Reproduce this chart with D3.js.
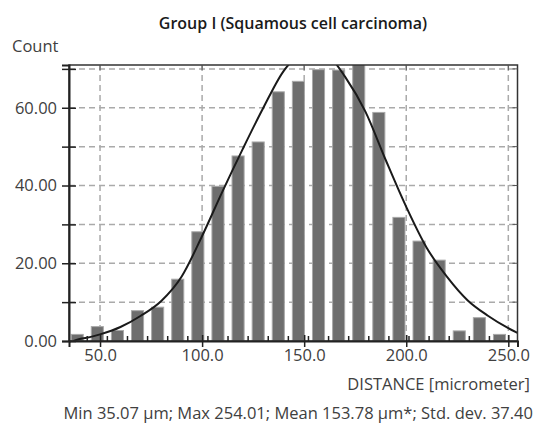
<!DOCTYPE html>
<html>
<head>
<meta charset="utf-8">
<script src="https://cdn.jsdelivr.net/npm/d3@7"></script>
<style>
  html, body { margin: 0; padding: 0; background: #fff; }
  svg, svg text { font-family: "Open Sans", "Noto Sans", sans-serif; }
  svg { display: block; }
</style>
</head>
<body>
<svg id="chart" width="546" height="431"></svg>
<script>
// ---- data ----
const title = "Group I (Squamous cell carcinoma)";
const yLabel = "Count";
const xLabel = "DISTANCE [micrometer]";
const caption = "Min 35.07 \u00b5m; Max 254.01; Mean 153.78 \u00b5m*; Std. dev. 37.40";

const binStart = 33.9;
const binWidth = 9.85;
const counts = [1.7, 3.7, 2.7, 7.8, 8.7, 15.9, 28.1, 39.8, 47.6, 51.2, 64.1, 66.8,
                69.8, 69.7, 72, 58.8, 31.8, 25.7, 20.8, 2.6, 6.0, 1.7];

const curveX = [37, 40, 45, 50, 60, 70, 80, 90, 100, 110, 120, 130, 140, 150, 155, 160,
                170, 180, 190, 200, 210, 220, 230, 240, 250, 254.5];
const curveY = [0.0, 0.5, 1.0, 1.7, 3.6, 6.5, 10.3, 16.6, 27, 38.5, 49.5, 60, 69.5, 74.5, 75.5, 74.5,
                68, 59, 46.5, 34.5, 24, 16.5, 10.5, 6.5, 3.3, 2.1];

const xTicks = [50, 100, 150, 200, 250];
const yMajorTicks = [0, 20, 40, 60];
const yGridTicks = [10, 20, 30, 40, 50, 60, 70];

const xDomain = [34.8, 254.5];
const yDomain = [0, 71];

// ---- layout ----
const svg = d3.select("#chart");
const L = 69, R = 517.5, T = 65, B = 341;
const x = d3.scaleLinear().domain(xDomain).range([L, R]);
const y = d3.scaleLinear().domain(yDomain).range([B, T]);
const textColor = "#404040";
const fontFam = "'Open Sans', 'Noto Sans', sans-serif";
const fs = "16.5px";

svg.append("defs").append("clipPath").attr("id", "plotClip")
  .append("rect").attr("x", L).attr("y", T).attr("width", R - L).attr("height", B - T);

// grid
const grid = svg.append("g").attr("stroke", "#aaaaaa").attr("stroke-width", 1.5)
  .attr("stroke-dasharray", "6,4").attr("fill", "none");
grid.selectAll("line.h").data(yGridTicks).join("line").attr("class", "h")
  .attr("x1", L).attr("x2", R).attr("y1", d => y(d)).attr("y2", d => y(d));
grid.selectAll("line.v").data(xTicks).join("line").attr("class", "v")
  .attr("y1", T).attr("y2", B).attr("x1", d => x(d)).attr("x2", d => x(d));

// bars
const bins = counts.map((c, i) => ({ x0: binStart + i * binWidth, x1: binStart + (i + 1) * binWidth, c }));
svg.append("g").attr("clip-path", "url(#plotClip)")
  .selectAll("rect").data(bins).join("rect")
  .attr("x", d => x(d.x0 + 0.2 * binWidth))
  .attr("width", d => x(d.x0 + 0.8 * binWidth) - x(d.x0 + 0.2 * binWidth))
  .attr("y", d => y(d.c))
  .attr("height", d => y(0) - y(d.c))
  .attr("fill", "#6e6e6e")
  .attr("stroke", "#a8a8a8")
  .attr("stroke-width", 1);

// fitted curve
const pts = curveX.map((v, i) => [v, curveY[i]]);
svg.append("path").datum(pts)
  .attr("clip-path", "url(#plotClip)")
  .attr("fill", "none").attr("stroke", "#1a1a1a").attr("stroke-width", 2)
  .attr("d", d3.line().x(d => x(d[0])).y(d => y(d[1])).curve(d3.curveMonotoneX));

// frame
svg.append("rect").attr("x", L).attr("y", T).attr("width", R - L).attr("height", B - T)
  .attr("fill", "none").attr("stroke", "#333").attr("stroke-width", 1.5);

// left axis
const yAxis = d3.axisLeft(y).tickValues([0].concat(yGridTicks)).tickSize(7)
  .tickFormat(d => yMajorTicks.includes(d) ? d3.format(".2f")(d) : "");
const gy = svg.append("g").attr("transform", `translate(${L},0)`).call(yAxis)
  .attr("font-family", fontFam).attr("font-size", fs);
gy.select(".domain").attr("stroke", "#222").attr("stroke-width", 2);
gy.selectAll(".tick line").attr("stroke", "#222").attr("stroke-width", 1.5).attr("x2", -7).attr("x1", 7);
gy.selectAll(".tick text").attr("x", -12).attr("fill", textColor)
  .style("font-family", fontFam).style("font-size", fs).style("font-weight", 400);

// bottom axis
const xAxis = d3.axisBottom(x).tickValues(xTicks).tickSize(6).tickFormat(d3.format(".1f"));
const gx = svg.append("g").attr("transform", `translate(0,${B})`).call(xAxis)
  .attr("font-family", fontFam).attr("font-size", fs);
gx.select(".domain").attr("stroke", "#222").attr("stroke-width", 2);
gx.selectAll(".tick line").attr("stroke", "#222").attr("stroke-width", 1.5).attr("y1", -6).attr("y2", 6);
gx.selectAll(".tick text").attr("y", 8).attr("fill", textColor)
  .style("font-family", fontFam).style("font-size", fs).style("font-weight", 400);

// minor ticks at bin edges (inside)
const edges = bins.slice(1).map(d => d.x0);
svg.append("g").selectAll("line").data(edges).join("line")
  .attr("x1", d => x(d)).attr("x2", d => x(d))
  .attr("y1", B).attr("y2", B - 5)
  .attr("stroke", "#222").attr("stroke-width", 1.5);

// top / right edge ticks
svg.append("g").selectAll("line").data(xTicks).join("line")
  .attr("x1", d => x(d)).attr("x2", d => x(d)).attr("y1", T).attr("y2", T + 5)
  .attr("stroke", "#555").attr("stroke-width", 1);
svg.append("g").selectAll("line").data(yGridTicks).join("line")
  .attr("x1", R).attr("x2", R - 5).attr("y1", d => y(d)).attr("y2", d => y(d))
  .attr("stroke", "#555").attr("stroke-width", 1);

// texts
svg.append("text").attr("x", 293).attr("y", 29).attr("text-anchor", "middle")
  .attr("fill", "#1a1a1a").style("font-size", "16px").style("font-weight", 600).text(title);
svg.append("text").attr("x", 12).attr("y", 52).attr("fill", textColor)
  .style("font-size", fs).text(yLabel);
svg.append("text").attr("x", 530).attr("y", 390).attr("text-anchor", "end").attr("fill", textColor)
  .style("font-size", fs).text(xLabel);
svg.append("text").attr("x", 533).attr("y", 419).attr("text-anchor", "end").attr("fill", textColor)
  .style("font-size", fs).text(caption);
</script>
</body>
</html>
